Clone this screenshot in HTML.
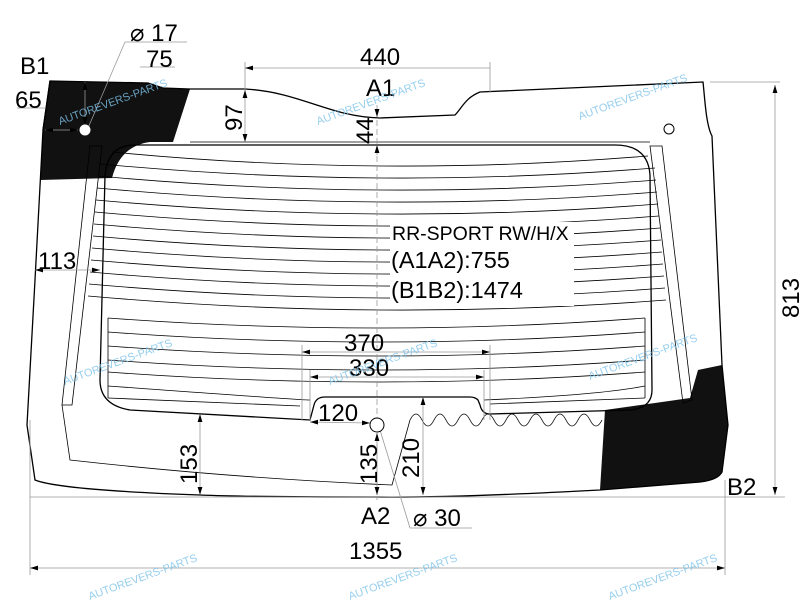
<!DOCTYPE html>
<html><head><meta charset="utf-8"><style>
html,body{margin:0;padding:0;background:#fff;}
svg{display:block;font-family:"Liberation Sans",Arial,sans-serif;}
.d{stroke:#999;stroke-width:0.8;fill:none}
.k{stroke:#000;stroke-width:1.3;fill:none}
.t{stroke:#000;stroke-width:0.8;fill:none}
.w{font-size:11px;fill:#7ec3ea;opacity:0.8}
</style></head><body>
<svg width="800" height="600" viewBox="0 0 800 600" xmlns="http://www.w3.org/2000/svg">
<defs>
<marker id="a" markerWidth="10" markerHeight="6" refX="10" refY="3" orient="auto-start-reverse"><path d="M0,0 L10,3 L0,6 z" fill="#000"/></marker>
</defs>
<path d="M50,81 L148,83 L163,88 L190,89 L173,142 L150,142 Q120,146 112,178 L40,180 L43,130 Z" fill="#111"/>
<path d="M605,410 L655,403 L690,398 L698,370 L722,365 L728,425 L722,472 Q718,480 700,482 L600,490 Z" fill="#111"/>
<path class="k" d="M50,81 L148,83 L163,88 L190,89 L245,89 C300,92 330,117 380,118 L455,115 C462,108 465,98 480,92 L703,82 C705,100 706,125 712,136 L722,365 L728,425 L722,472 Q718,480 700,482 L600,490 Q450,498 375,497 Q250,497 200,495 Q60,490 35,480 L27,425 L35,280 L43,130 Z"/>
<line class="k" x1="43" y1="130" x2="50" y2="81"/>
<line class="t" x1="190" y1="142" x2="650" y2="142"/>
<path class="t" d="M62,405 L70,460 Q230,478 392,485 L410,420"/>
<path class="t" d="M410,420 q6,-12 12,0 t12,0 t12,0 t12,0 t12,0 t12,0 t12,0 t12,0 t12,0 t12,0 t12,0 t12,0 t12,0 t12,0 t12,0 t12,0"/>
<path class="t" d="M90,146 L102,146 L72,405 L62,405 Z" fill="#fff"/>
<path class="t" d="M650,146 L662,146 L692,400 L683,403 Z" fill="#fff"/>
<path class="k" d="M135,145 L615,145 Q648,145 650,175 L652,390 Q652,408 630,410 L490,414 Q482,414 480,405 L478,400 Q475,397 470,397 L325,397 Q316,397 314,405 L310,420 L130,410 Q100,405 100,380 L105,175 Q108,145 135,145 Z"/>
<g class="t">
<path d="M112,152 Q380,178 648,156"/>
<path d="M100,164 Q380,190 655,168"/>
<path d="M98,176 Q380,202 656,180"/>
<path d="M97,188 Q380,214 657,192"/>
<path d="M96,200 Q380,226 658,204"/>
<path d="M95,212 Q380,238 659,216"/>
<path d="M94,224 Q380,250 660,228"/>
<path d="M93,236 Q380,262 661,240"/>
<path d="M92,248 Q380,274 662,252"/>
<path d="M91,260 Q380,286 663,264"/>
<path d="M90,272 Q380,298 664,276"/>
<path d="M89,284 Q380,310 665,288"/>
<path d="M88,296 Q380,322 666,300"/>
<path d="M108,318 Q380,338 645,318"/>
<path d="M108,332 Q380,352 645,332"/>
<path d="M108,346 Q380,366 645,346"/>
<path d="M108,360 Q380,380 645,360"/>
<path d="M108,372 Q380,392 645,372"/>
<path d="M108,386 Q300,400 310,400"/>
<path d="M484,400 Q600,395 645,386"/>
<path d="M108,398 L300,406"/>
<path d="M490,404 L645,398"/>
<path d="M108,318 L108,398 M645,318 L645,398"/>
</g>
<rect x="390" y="222" width="184" height="84" fill="#fff"/>
<line class="d" x1="377" y1="120" x2="377" y2="500" stroke-dasharray="6,3"/>
<line class="d" x1="245" y1="62" x2="245" y2="92"/><line class="d" x1="490" y1="62" x2="490" y2="92"/>
<line class="d" x1="245" y1="68" x2="490" y2="68" marker-start="url(#a)"/>
<line class="d" x1="245" y1="90" x2="245" y2="142" marker-start="url(#a)" marker-end="url(#a)"/>
<line class="d" x1="377" y1="105" x2="377" y2="117" marker-end="url(#a)"/>
<line class="d" x1="377" y1="155" x2="377" y2="145" marker-end="url(#a)"/>
<line class="d" x1="35" y1="270" x2="100" y2="270" marker-start="url(#a)" marker-end="url(#a)"/>
<line class="d" x1="710" y1="82" x2="780" y2="82"/>
<line class="d" x1="30" y1="497" x2="785" y2="497"/>
<line class="d" x1="775" y1="85" x2="775" y2="495" marker-start="url(#a)" marker-end="url(#a)"/>
<line class="d" x1="302" y1="345" x2="302" y2="420"/><line class="d" x1="490" y1="345" x2="490" y2="420"/>
<line class="d" x1="302" y1="352" x2="490" y2="352" marker-start="url(#a)" marker-end="url(#a)"/>
<line class="d" x1="310" y1="370" x2="310" y2="420"/><line class="d" x1="484" y1="370" x2="484" y2="420"/>
<line class="d" x1="310" y1="377" x2="484" y2="377" marker-start="url(#a)" marker-end="url(#a)"/>
<line class="d" x1="310" y1="422" x2="370" y2="423" marker-start="url(#a)" marker-end="url(#a)"/>
<line class="d" x1="200" y1="414" x2="200" y2="495" marker-start="url(#a)" marker-end="url(#a)"/>
<line class="d" x1="377" y1="433" x2="377" y2="495" marker-start="url(#a)" marker-end="url(#a)"/>
<line class="d" x1="423" y1="397" x2="423" y2="495" marker-start="url(#a)" marker-end="url(#a)"/>
<line class="d" x1="30" y1="420" x2="30" y2="575"/><line class="d" x1="725" y1="480" x2="725" y2="575"/>
<line class="d" x1="30" y1="568" x2="725" y2="568" marker-start="url(#a)" marker-end="url(#a)"/>
<line class="d" x1="380" y1="430" x2="410" y2="528"/><line class="d" x1="410" y1="528" x2="472" y2="528"/>
<line class="d" x1="85" y1="82" x2="85" y2="125" stroke="#fff" marker-start="url(#a)" marker-end="url(#a)"/>
<line class="d" x1="45" y1="130" x2="78" y2="130" stroke="#fff" marker-start="url(#a)" marker-end="url(#a)"/>
<line class="d" x1="88" y1="128" x2="125" y2="42"/><line class="d" x1="125" y1="42" x2="187" y2="42"/>
<line class="d" x1="140" y1="67" x2="175" y2="67"/>
<line class="d" x1="17" y1="108" x2="45" y2="108"/>
<circle cx="85" cy="130" r="5" fill="#fff" stroke="#fff"/>
<circle cx="669" cy="129" r="5" fill="#fff" stroke="#000" stroke-width="1"/>
<circle cx="377" cy="425" r="7" fill="#fff" stroke="#000" stroke-width="1"/>
<g font-size="24" fill="#000">
<text x="20" y="74">B1</text>
<text x="15" y="108">65</text>
<text x="130" y="41">⌀ 17</text>
<text x="146" y="67">75</text>
<text x="360" y="65">440</text>
<text x="366" y="96">A1</text>
<text x="38" y="269">113</text>
<text x="392" y="240" font-size="19.5">RR-SPORT RW/H/X</text>
<text x="391" y="268" font-size="23.5">(A1A2):755</text>
<text x="391" y="298" font-size="23.5">(B1B2):1474</text>
<text x="344" y="351">370</text>
<text x="349" y="376">330</text>
<text x="318" y="421">120</text>
<text x="361" y="524">A2</text>
<text x="413" y="526">⌀ 30</text>
<text x="727" y="495">B2</text>
<text x="349" y="559">1355</text>
<text transform="translate(242,131) rotate(-90)">97</text>
<text transform="translate(373,144) rotate(-90)">44</text>
<text transform="translate(799,318) rotate(-90)">813</text>
<text transform="translate(197,484) rotate(-90)">153</text>
<text transform="translate(377,484) rotate(-90)">135</text>
<text transform="translate(419,478) rotate(-90)">210</text>
</g>
<g class="w">
<text transform="translate(60,125) rotate(-20)">AUTOREVERS-PARTS</text>
<text transform="translate(318,125) rotate(-20)">AUTOREVERS-PARTS</text>
<text transform="translate(580,120) rotate(-20)">AUTOREVERS-PARTS</text>
<text transform="translate(65,385) rotate(-20)">AUTOREVERS-PARTS</text>
<text transform="translate(330,385) rotate(-20)">AUTOREVERS-PARTS</text>
<text transform="translate(590,380) rotate(-20)">AUTOREVERS-PARTS</text>
<text transform="translate(90,600) rotate(-20)">AUTOREVERS-PARTS</text>
<text transform="translate(350,600) rotate(-20)">AUTOREVERS-PARTS</text>
<text transform="translate(610,600) rotate(-20)">AUTOREVERS-PARTS</text>
</g>
</svg>
</body></html>
